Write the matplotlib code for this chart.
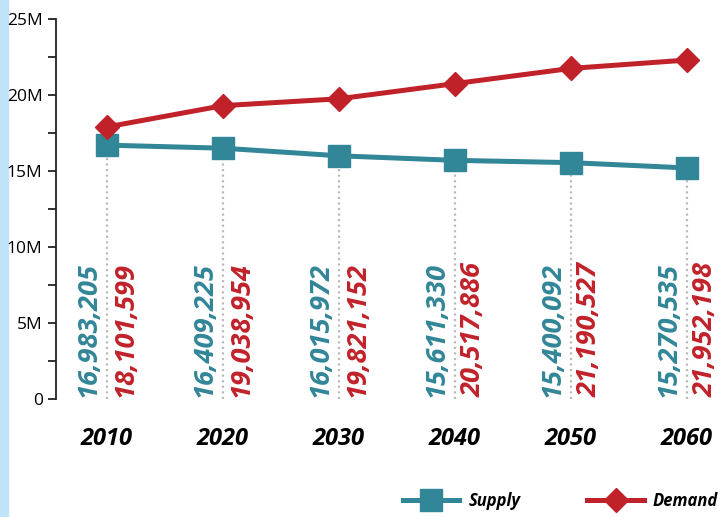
import matplotlib
matplotlib.use("Agg")
import matplotlib.pyplot as plt
from matplotlib.ticker import FuncFormatter, MultipleLocator
from matplotlib.lines import Line2D
from matplotlib.patches import Rectangle

years = [2010, 2020, 2030, 2040, 2050, 2060]
supply_plot = [16.7e6, 16.5e6, 16.0e6, 15.7e6, 15.55e6, 15.2e6]
demand_plot = [17.9e6, 19.3e6, 19.75e6, 20.75e6, 21.75e6, 22.3e6]
supply_labels = ["16,983,205", "16,409,225", "16,015,972", "15,611,330", "15,400,092", "15,270,535"]
demand_labels = ["18,101,599", "19,038,954", "19,821,152", "20,517,886", "21,190,527", "21,952,198"]
y_ticks = [0, 5e6, 10e6, 15e6, 20e6, 25e6]

teal = "#318697"
red = "#C1222A"
font = "Open Sans"

fig = plt.figure(figsize=(7.26, 5.17), dpi=100)
fig.patches.append(Rectangle((0, 0), 8 / 726, 1, transform=fig.transFigure,
                             color="#BFE4F8", zorder=-10))
ax = fig.add_axes([56 / 726, 1 - 399 / 517, 670 / 726, 380 / 517])
ax.patch.set_alpha(0)
ax.set_xlim(2005.6, 2005.6 + 670 / 11.6)
ax.set_ylim(0, 25e6)

for x, s in zip(years, supply_plot):
    ax.plot([x, x], [0, s], color="#BBBBBB", lw=1.6, ls=(0, (1, 1.5)), zorder=1)

ax.plot(years, supply_plot, color=teal, lw=3.6, marker="s", ms=16.5, zorder=3)
ax.plot(years, demand_plot, color=red, lw=3.6, marker="D", ms=12, zorder=4)

for x, sl, dl in zip(years, supply_labels, demand_labels):
    ax.text(x - 1.6, 0.12e6, sl, rotation=90, ha="center", va="bottom",
            color=teal, fontsize=19.5, fontweight="bold", fontstyle="italic", family=font)
    ax.text(x + 1.6, 0.12e6, dl, rotation=90, ha="center", va="bottom",
            color=red, fontsize=19.5, fontweight="bold", fontstyle="italic", family=font)
    ax.text(x, -2.6e6, str(x), ha="center", va="center", color="black",
            fontsize=17, fontweight="bold", fontstyle="italic", family=font)

ax.set_yticks(y_ticks)
ax.yaxis.set_minor_locator(MultipleLocator(2.5e6))
ax.yaxis.set_major_formatter(FuncFormatter(lambda v, p: "0" if v == 0 else f"{int(v/1e6)}M"))
ax.tick_params(axis="y", which="both", length=6, width=1.3, color="#222222",
               labelsize=12.5, pad=3.6)
ax.tick_params(axis="x", bottom=False, labelbottom=False)
for lab in ax.get_yticklabels():
    lab.set_family(font)
for s in ["top", "right", "bottom"]:
    ax.spines[s].set_visible(False)
ax.spines["left"].set_linewidth(1.3)
ax.spines["left"].set_color("#222222")

handles = [Line2D([], [], color=teal, lw=3.6, marker="s", ms=16.5),
           Line2D([], [], color=red, lw=3.6, marker="D", ms=12)]
leg = fig.legend(handles, ["Supply", "Demand"], loc="lower right",
                 bbox_to_anchor=(1.01, -0.015), ncol=2, frameon=False,
                 handlelength=3.4, columnspacing=4.0, handletextpad=0.55,
                 prop={"family": font, "weight": "bold", "style": "italic", "size": 12})

fig.savefig("out.png", dpi=100)
